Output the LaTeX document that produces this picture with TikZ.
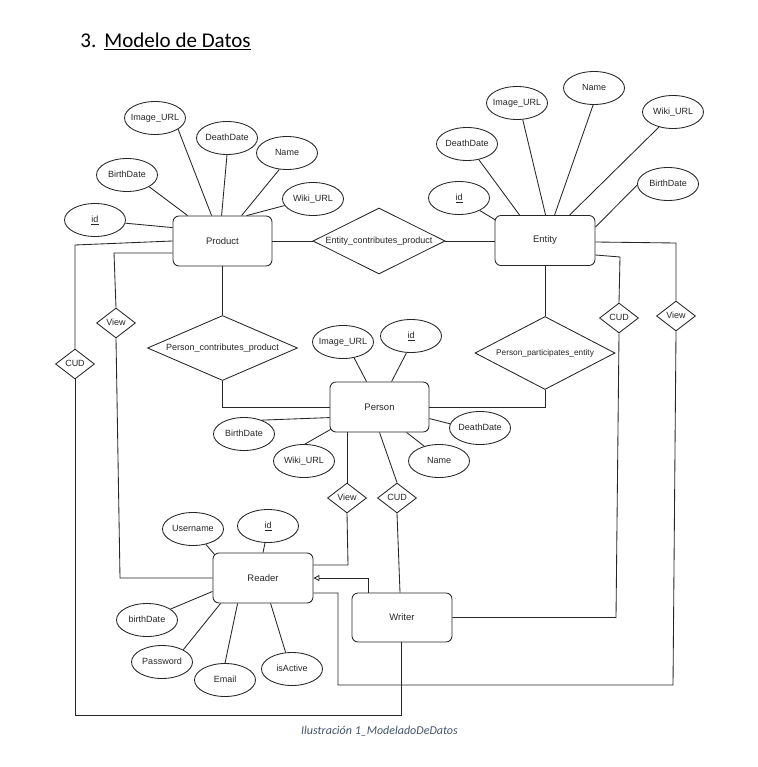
\documentclass[tikz,border=0pt]{standalone}
\usepackage{fontspec}
\setmainfont{Liberation Sans}
\newfontfamily\calib{Carlito}
\usetikzlibrary{shapes.geometric,arrows.meta,calc}
\definecolor{captionblue}{HTML}{44546A}
\definecolor{ink}{HTML}{262626}
\begin{document}
\begin{tikzpicture}[x=1pt,y=-1pt,line width=0.85pt,draw=ink,
  lbl/.style={font=\fontsize{9}{10}\selectfont,inner sep=0pt,text=ink,text height=6.6pt,text depth=1.9pt},
  entbox/.style={draw,rounded corners=6pt,minimum width=99pt,minimum height=50pt,inner sep=0pt,font=\fontsize{9.5}{11}\selectfont,text=ink},
  attr/.style={draw,ellipse,minimum width=61pt,minimum height=33pt,inner sep=0pt,label={[lbl]center:#1}},
  sdia/.style={draw,diamond,minimum width=39pt,minimum height=30pt,inner sep=0pt,label={[lbl]center:#1}},
  bdia/.style={draw,diamond,inner sep=0pt}]
\useasboundingbox (0,0) rectangle (757,767);
\fill[white] (0,0) rectangle (757,767);

% title and caption
\node[font=\calib\fontsize{21}{25}\selectfont,anchor=base west,inner sep=0pt] (tnum) at (80,48) {3.};
\node[font=\calib\fontsize{21}{25}\selectfont,anchor=base west,inner sep=0pt] (title) at (104,48) {\underline{Modelo de Datos}};
\node[font=\calib\itshape\fontsize{12}{14}\selectfont,text=captionblue,anchor=base,inner sep=0pt] (cap) at (379.5,734) {Ilustración 1\_ModeladoDeDatos};

% entities
\node[entbox] (prod) at (222.5,241) {Product};
\node[entbox,minimum width=100pt] (ent) at (545,240.5) {Entity};
\node[entbox] (per) at (379.5,407) {Person};
\node[entbox,minimum width=100pt] (rdr) at (263,578) {Reader};
\node[entbox,minimum width=100pt,minimum height=49pt] (wr) at (402,617.5) {Writer};

% relationships
\node[bdia,minimum width=132pt,minimum height=66pt,label={[lbl]center:Entity\_contributes\_product}] (ecp) at (379,241) {};
\node[bdia,minimum width=150pt,minimum height=65pt,label={[lbl]center:Person\_contributes\_product}] (ppc) at (222.5,348) {};
\node[bdia,minimum width=140pt,minimum height=73pt,label={[lbl,font=\fontsize{8.3}{9}\selectfont]center:Person\_participates\_entity}] (ppe) at (545,353) {};
\node[sdia=View] (viewL) at (116,323) {};
\node[sdia=CUD] (cudL) at (75,364) {};
\node[sdia=CUD] (cudR) at (619,318) {};
\node[sdia=View] (viewR) at (676,316) {};
\node[sdia=View] (viewP) at (347,498) {};
\node[sdia=CUD] (cudP) at (397,498) {};

% product attributes
\node[attr={\underline{id}}] (pid) at (95,220) {};
\node[attr=BirthDate] (pbirth) at (127,175) {};
\node[attr=Image\_URL] (pimg) at (155,118) {};
\node[attr=DeathDate] (pdeath) at (227,138) {};
\node[attr=Name] (pname) at (287,153) {};
\node[attr=Wiki\_URL] (pwiki) at (313,199) {};

% entity attributes
\node[attr={\underline{id}}] (eid) at (459,198) {};
\node[attr=DeathDate] (edeath) at (467,144) {};
\node[attr=Image\_URL] (eimg) at (517,103) {};
\node[attr=Name] (ename) at (594,88) {};
\node[attr=Wiki\_URL] (ewiki) at (673,112) {};
\node[attr=BirthDate] (ebirth) at (668,184) {};

% person attributes
\node[attr=Image\_URL] (peimg) at (343,342) {};
\node[attr={\underline{id}}] (peid) at (411,336) {};
\node[attr=DeathDate] (pedeath) at (480,428) {};
\node[attr=Name] (pename) at (439,461) {};
\node[attr=BirthDate] (pebirth) at (244,434) {};
\node[attr=Wiki\_URL] (pewiki) at (304,461) {};

% reader attributes
\node[attr=Username] (rusr) at (193,529) {};
\node[attr={\underline{id}}] (rid) at (268,526) {};
\node[attr=birthDate] (rbirth) at (147,620) {};
\node[attr=Password] (rpass) at (162,662) {};
\node[attr=Email] (remail) at (225,680) {};
\node[attr=isActive] (ractive) at (292,669) {};

% attribute links
\draw (pid.-6) -- ($(prod.north west)+(0,12)$);
\draw (pbirth.-28) -- ($(prod.north west)+(15,0)$);
\draw (pimg.-26) -- ($(prod.north west)+(39,0)$);
\draw (pdeath.-90) -- ($(prod.north west)+(49,0)$);
\draw (pname.-115) -- ($(prod.north west)+(69,0)$);
\draw (pwiki.-167) -- ($(prod.north west)+(74,0)$);

\draw (eid.-31) -- ($(ent.north west)+(1,5)$);
\draw (edeath.-53) -- ($(ent.north west)+(25,0)$);
\draw (eimg.-71) -- ($(ent.north west)+(51,0)$);
\draw (ename.-93) -- ($(ent.north west)+(60,0)$);
\draw (ewiki.-133) -- ($(ent.north west)+(75,0)$);
\draw (ebirth.-178) -- ($(ent.north east)+(0,12)$);

\draw (peimg.-55) -- ($(per.north west)+(37,0)$);
\draw (peid.-105) -- ($(per.north west)+(62,0)$);
\draw (pedeath.172) -- ($(per.north east)+(0,37)$);
\draw (pename.135) -- ($(per.south west)+(77,0)$);
\draw (pebirth.38) -- ($(per.north west)+(0,36)$);
\draw (pewiki.87) -- ($(per.south west)+(1,-3)$);

\draw (rusr.-50) -- ($(rdr.north west)+(2,2)$);
\draw (rid.-100) -- (rdr.north);
\draw (rbirth.25) -- ($(rdr.south west)+(0,-12)$);
\draw (rpass.30) -- ($(rdr.south west)+(8,0)$);
\draw (remail.90) -- ($(rdr.south west)+(25,0)$);
\draw (ractive.111) -- ($(rdr.south west)+(58,0)$);

% relationship links
\draw (prod.east) -- (ecp.west);
\draw (ecp.east) -- (ecp.east -| ent.west);
\draw (prod.south) -- (ppc.north);
\draw (ppc.south) |- (per.west);
\draw (ent.south) -- (ppe.north);
\draw (ppe.south) |- (per.east);

% view / CUD links
\coordinate (v1) at (114,253);
\coordinate (v2) at (120,578);
\draw ($(prod.west)+(0,12)$) -- (v1) -- (viewL.north);
\draw (viewL.south) -- (v2) -- (rdr.west);

\coordinate (c1) at (75,245);
\coordinate (c2) at (75,715);
\coordinate (c3) at (401,715);
\draw (prod.west) -- (c1) -- (cudL.north);
\draw (cudL.south) -- (c2) -- (c3) -- (c3 |- wr.south);

\coordinate (r1) at (676,243);
\coordinate (r2) at (673,685);
\coordinate (r3) at (338,685);
\coordinate (r4) at (338,593);
\draw ($(ent.east)+(0,1.5)$) -- (r1) -- (viewR.north);
\draw (viewR.south) -- (r2) -- (r3) -- (r4) -- (r4 -| rdr.east);

\coordinate (q1) at (620,257);
\coordinate (q2) at (616,617.5);
\draw ($(ent.east)+(0,14.5)$) -- (q1) -- (cudR.north);
\draw (cudR.south) -- (q2) -- (wr.east);

\coordinate (s1) at (348,565);
\draw (viewP.north |- per.south) -- (viewP.north);
\draw (viewP.south) -- (s1) -- (s1 -| rdr.east);

\draw (per.south) -- (cudP.north);
\draw (cudP.south) -- ($(wr.north)+(-2,0)$);

\coordinate (h1) at (368,578);
\draw[-{Triangle[open,length=6pt,width=6pt]}] (h1 |- wr.north) -- (h1) -- (rdr.east);
\end{tikzpicture}
\end{document}
